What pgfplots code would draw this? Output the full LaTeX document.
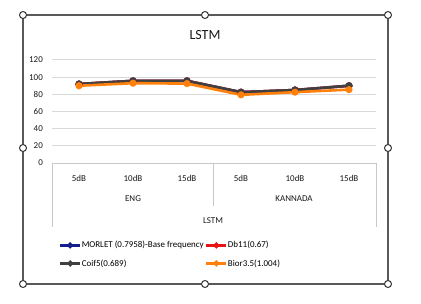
\documentclass[border=0pt]{standalone}
\usepackage{pgfplots}
\pgfplotsset{compat=1.18}
\usepackage{fontspec}
\setmainfont{Carlito}
\definecolor{cnavy}{RGB}{20,30,140}
\definecolor{cred}{RGB}{230,20,20}
\definecolor{cgray}{RGB}{64,64,64}
\definecolor{corange}{RGB}{255,128,10}
\definecolor{cgrid}{RGB}{217,217,217}
\definecolor{csep}{RGB}{200,200,200}
\begin{document}
\begin{tikzpicture}[x=1bp,y=1bp]
\useasboundingbox[fill=white] (0,0) rectangle (421,304);
\begin{axis}[
  at={(52bp,141bp)}, anchor=south west,
  scale only axis, width=324bp, height=103bp,
  xmin=-0.5, xmax=5.5, ymin=0, ymax=120,
  axis line style={draw=none},
  tick style={draw=none},
  clip=false,
  ytick={0,20,40,60,80,100,120},
  ymajorgrids, major grid style={cgrid, line width=1bp},
  xtick={0,1,2,3,4,5},
  xticklabels={5dB,10dB,15dB,5dB,10dB,15dB},
  major tick length=0pt,
  /pgf/number format/assume math mode=true,
  tick label style={font=\fontsize{9}{10}\selectfont, text=black!90},
  yticklabel style={inner sep=0pt, xshift=-9bp},
  xticklabel style={inner sep=0pt, anchor=center, yshift=-15bp},
  every axis plot/.append style={line width=2.6bp, mark=*, mark size=2.2bp},
  legend columns=2,
  legend cell align=left,
  legend style={draw=none, fill=none, at={(0.012,-0.735)}, anchor=north west,
    font=\fontsize{9}{10}\selectfont, row sep=9bp,
    nodes={inner sep=0.5bp},
    /tikz/every even column/.append style={column sep=1bp}},
  legend image code/.code={\draw[mark repeat=2,mark phase=2,line width=2.2bp, mark size=1.8bp] plot coordinates {(0bp,0bp)(10bp,0bp)(20bp,0bp)};},
]
\addplot[color=cnavy] coordinates {(0,92) (1,95.7) (2,95.7) (3,82.5) (4,85) (5,90)};
\addlegendentry{MORLET (0.7958)-Base frequency}
\addplot[color=cred] coordinates {(0,92) (1,95.7) (2,95.7) (3,82.5) (4,85) (5,90)};
\addlegendentry{Db11(0.67)}
\addplot[color=cgray] coordinates {(0,92) (1,95.7) (2,95.7) (3,82.5) (4,85) (5,90)};
\addlegendentry{Coif5(0.689)}
\addplot[color=corange] coordinates {(0,90) (1,93) (2,92.5) (3,79.4) (4,82.5) (5,85.5)};
\addlegendentry{Bior3.5(1.004)}
\end{axis}
% category separators
\draw[csep, line width=0.9bp] (52,141) -- (52,77);
\draw[csep, line width=0.9bp] (213,141) -- (213,98);
\draw[csep, line width=0.9bp] (376,141) -- (376,77);
\draw[csep, line width=0.9bp] (52,141) -- (376,141);
\node[font=\fontsize{9}{10}\selectfont, text=black!90] at (133,105) {ENG};
\node[font=\fontsize{9}{10}\selectfont, text=black!90] at (294,105) {KANNADA};
\node[font=\fontsize{9}{10}\selectfont, text=black!90] at (213,83) {LSTM};
% title
\node[font=\fontsize{14}{16}\selectfont, text=black!90] at (205,269) {LSTM};
% chart frame and handles
\draw[black!65, line width=1.2bp] (23,20) rectangle (388,289);
\foreach \p in {(23,289),(205,289),(388,289),(23,156),(388,156),(23,20),(205,20),(388,20)}
  \draw[black!80, fill=white, line width=1bp] \p circle (3.5bp);
\end{tikzpicture}
\end{document}
